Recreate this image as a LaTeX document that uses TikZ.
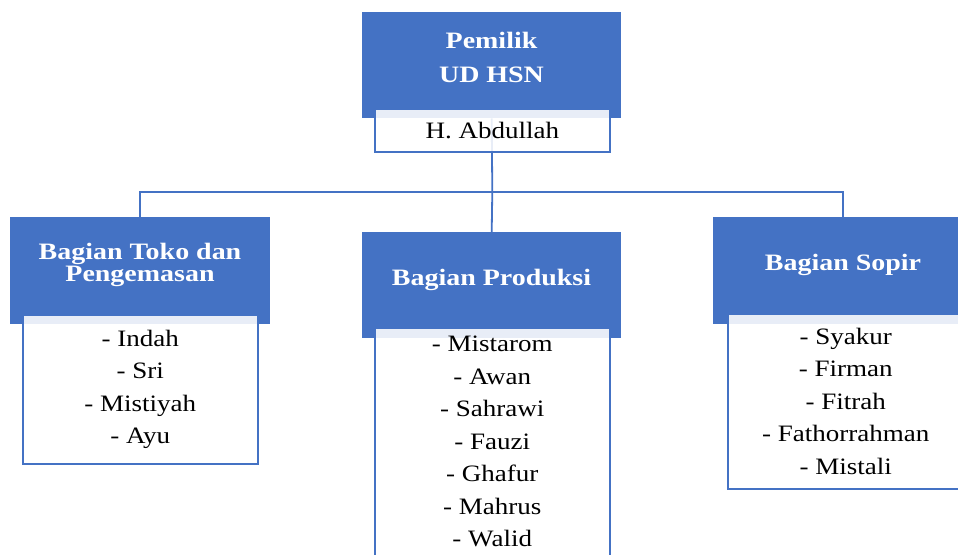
\documentclass[tikz,border=0pt]{standalone}
\usepackage{fontspec}
\setmainfont{Liberation Serif}[FakeStretch=1.15, BoldFeatures={FakeStretch=1.19}]
\usetikzlibrary{calc,backgrounds}
\definecolor{hsnblue}{RGB}{68,114,196}
\definecolor{hsnline}{RGB}{68,114,196}

\begin{document}
\begin{tikzpicture}[
    x=1pt, y=-1pt,
    headbox/.style={fill=hsnblue, anchor=north west, inner sep=0pt, minimum width=259pt, minimum height=106pt},
    headtxt/.style={text=white, font=\fontsize{23.5}{34}\selectfont\bfseries, align=center, inner sep=0pt},
    crew/.style={fill=white, fill opacity=0.88, text opacity=1, draw=hsnline, line width=1.6pt,
        anchor=north west, inner sep=0pt, minimum width=235pt, align=center,
        font=\fontsize{23.5}{32.5}\selectfont},
    link/.style={draw=hsnline, line width=1.8pt}
]
\useasboundingbox (0,0) rectangle (958,554);

% owner
\node[headbox] (ownerBox) at (362,12) {};
\node[headtxt] (ownerTitle) at (491.5,57.5) {Pemilik\\UD HSN};
\node[crew, minimum height=43pt] (ownerName) at (374,108) {H. Abdullah};

% store and packing
\node[headbox, minimum width=260pt, minimum height=107pt] (tokoBox) at (10,217) {};
\node[headtxt, font=\fontsize{23.5}{22}\selectfont\bfseries] (tokoTitle) at (140,265) {Bagian Toko dan\\Pengemasan};
\node[crew, minimum height=149pt] (tokoList) at (22,314) {- Indah\\- Sri\\- Mistiyah\\- Ayu};

% production
\node[headbox] (produksiBox) at (362,232) {};
\node[headtxt] (produksiTitle) at (491.5,280) {Bagian Produksi};
\node[crew, minimum height=228pt] (produksiList) at (374,327) {- Mistarom\\- Awan\\- Sahrawi\\- Fauzi\\- Ghafur\\- Mahrus\\- Walid};

% drivers
\node[headbox, minimum width=260pt, minimum height=107pt] (sopirBox) at (713,217) {};
\node[headtxt] (sopirTitle) at (843,265) {Bagian Sopir};
\node[crew, minimum width=236pt, minimum height=175pt] (sopirList) at (727,313) {- Syakur\\- Firman\\- Fitrah\\- Fathorrahman\\- Mistali};

% connectors
\begin{scope}[on background layer]
\coordinate (bus) at ($(ownerName.south)+(0,39)$);
\draw[link] (ownerBox.south) -- (bus);
\draw[link] (tokoBox.north) |- (bus) -| (sopirBox.north);
\draw[link] (bus) -- (produksiBox.north);
\end{scope}
\end{tikzpicture}
\end{document}
